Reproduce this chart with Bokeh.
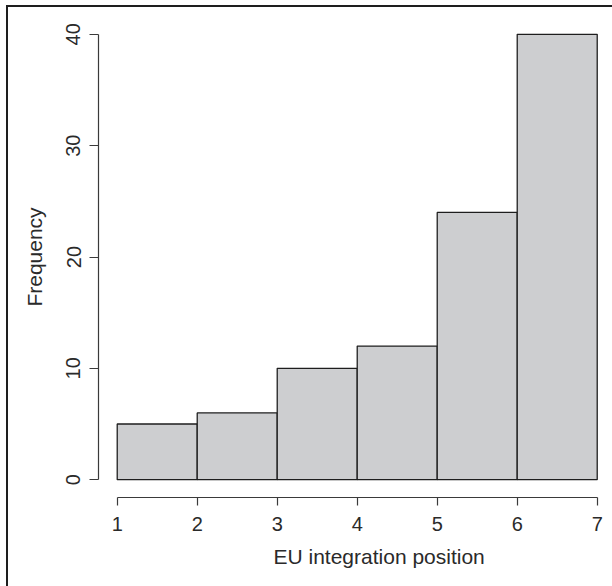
from bokeh.plotting import figure
from bokeh.models import Range1d, Title, FixedTicker
from bokeh.embed import file_html
from bokeh.resources import INLINE

# data
bin_edges = [1, 2, 3, 4, 5, 6, 7]
counts = [5, 6, 10, 12, 24, 40]
x_ticks = [1, 2, 3, 4, 5, 6, 7]
y_ticks = [0, 10, 20, 30, 40]

FONT = "Liberation Sans"
TXT = "#2a2a2a"
AX = "#3a3a3a"
EDGE = "#1e1e1e"

p = figure(width=612, height=586, output_backend="svg", toolbar_location=None,
           x_range=Range1d(0.766, 7.191), y_range=Range1d(-1.6, 41.6))
p.min_border_left = 98
p.min_border_right = 0
p.min_border_top = 16
p.min_border_bottom = 89
p.outline_line_color = None
p.xgrid.visible = False
p.ygrid.visible = False
p.background_fill_color = "white"
p.border_fill_color = None
p.styles = {"background": (f"linear-gradient({EDGE},{EDGE}) 6px 5px / 2px 100% no-repeat, "
                           f"linear-gradient({EDGE},{EDGE}) 6px 5px / 100% 2px no-repeat, white")}

p.quad(left=bin_edges[:-1], right=bin_edges[1:], bottom=0, top=counts,
       fill_color="#cdced0", line_color=EDGE, line_width=1.3)

xa = p.xaxis[0]
xa.ticker = FixedTicker(ticks=x_ticks)
xa.bounds = (x_ticks[0], x_ticks[-1])
xa.minor_tick_line_color = None
xa.major_tick_out = 8
xa.major_tick_in = 0
xa.axis_line_color = AX
xa.major_tick_line_color = AX
xa.axis_line_width = 1.2
xa.major_tick_line_width = 1.2
xa.major_label_text_font = FONT
xa.major_label_text_font_size = "20px"
xa.major_label_text_color = TXT
xa.major_label_standoff = 11

ya = p.yaxis[0]
ya.ticker = FixedTicker(ticks=y_ticks)
ya.bounds = (y_ticks[0], y_ticks[-1])
ya.minor_tick_line_color = None
ya.major_tick_out = 9
ya.major_tick_in = 0
ya.axis_line_color = AX
ya.major_tick_line_color = AX
ya.axis_line_width = 1.2
ya.major_tick_line_width = 1.2
ya.major_label_text_font = FONT
ya.major_label_text_font_size = "20px"
ya.major_label_text_color = TXT
ya.major_label_orientation = "vertical"
ya.major_label_standoff = 9
ya.axis_label = "Frequency"
ya.axis_label_text_font = FONT
ya.axis_label_text_font_size = "21px"
ya.axis_label_text_font_style = "normal"
ya.axis_label_text_color = TXT
ya.axis_label_standoff = 18

xlab = Title(text="EU integration position", align="left", offset=175,
             text_font=FONT, text_font_size="21px", text_font_style="normal",
             text_color=TXT, standoff=18)
p.add_layout(xlab, "below")

open("out.html", "w").write(file_html(p, INLINE))
